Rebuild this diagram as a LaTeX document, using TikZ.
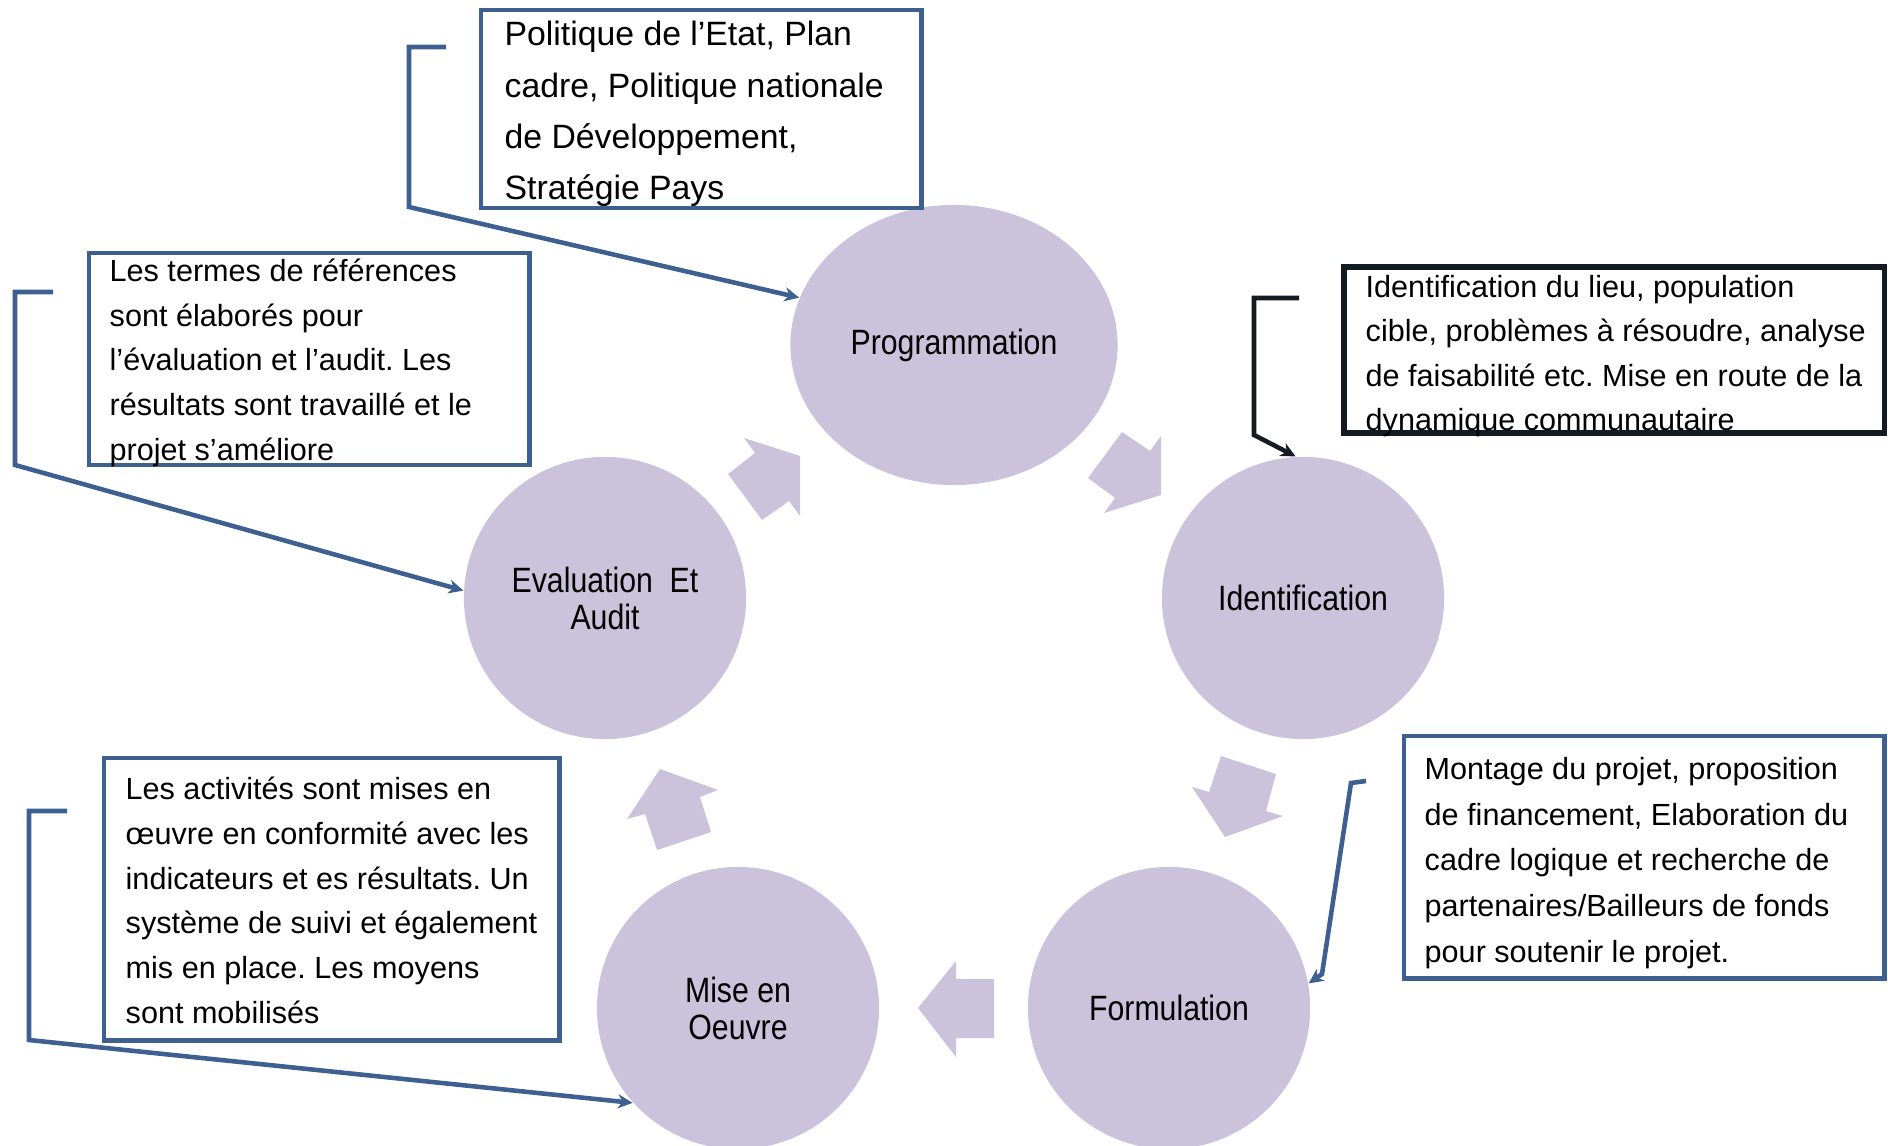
\documentclass[tikz,border=0pt]{standalone}
\usepackage{fontspec}
\setmainfont{Liberation Sans}
\newfontfamily\narrowsans{Liberation Sans}[FakeStretch=0.86]
\usetikzlibrary{shapes.geometric,arrows.meta}
\definecolor{phasefill}{RGB}{203,194,219}
\definecolor{notesblue}{RGB}{62,96,145}
\definecolor{notesdark}{RGB}{21,27,35}
\frenchspacing
\tikzset{
  phase/.style={circle,fill=phasefill,minimum size=2.82cm,inner sep=0pt,align=center,
    font=\narrowsans\fontsize{10}{10.5}\selectfont},
  notebox/.style={draw=notesblue,line width=1.35pt,fill=white,anchor=north west,
    inner sep=0pt,outer sep=0pt},
  notetext/.style={anchor=base west,align=left,inner sep=0pt,
    font=\fontsize{8.7}{12.7}\selectfont},
  link/.style={->,draw=notesblue,line width=1.3pt},
  cyclearrow/.style={fill=phasefill}
}
\begin{document}
\begin{tikzpicture}[x=0.01cm,y=-0.01cm,>={Stealth[length=4.2pt,width=4pt]}]
\useasboundingbox (0,0) rectangle (1888,1146);
% phases of the cycle
\node[phase,ellipse,minimum width=3.27cm,minimum height=2.80cm] (prog) at (954,345) {Programmation};
\node[phase] (ident) at (1303,598) {Identification};
\node[phase] (form) at (1169,1008) {Formulation};
\node[phase] (mise) at (738,1008) {Mise en\\Oeuvre};
\node[phase] (eval) at (605,598) {Evaluation~ Et\\Audit};
% block arrows between phases
\fill[cyclearrow] (744,438) -- (800,456) -- (800,516) -- (789,501) -- (762,520) -- (728,474) -- (755,453) -- cycle;
\fill[cyclearrow] (1122,432) -- (1150,451) -- (1161,436) -- (1161,495) -- (1104,513) -- (1115,498) -- (1088,478) -- cycle;
\fill[cyclearrow] (1221,756) -- (1276,774) -- (1266,811) -- (1283,816) -- (1225,837) -- (1192,787) -- (1209,792) -- cycle;
\fill[cyclearrow] (918,1008) -- (956,961) -- (956,979) -- (994,979) -- (994,1038) -- (956,1038) -- (956,1057) -- cycle;
\fill[cyclearrow] (660,769) -- (718,790) -- (700,797) -- (711,832) -- (657,850) -- (645,814) -- (627,819) -- cycle;
% notes (text placed by the baseline of its last line)
\node[notebox,minimum width=4.40cm,minimum height=1.98cm] (polbox) at (481,10) {};
\node[notetext,font=\fontsize{9.6}{14.6}\selectfont] (poltext) at (504,200)
  {Politique de l’Etat, Plan\\cadre, Politique nationale\\de Développement,\\Stratégie Pays};
\node[notebox,draw=notesdark,line width=1.6pt,minimum width=5.40cm,minimum height=1.66cm] (idbox) at (1344,267) {};
\node[notetext] (idtext) at (1365,431)
  {Identification du lieu, population\\cible, problèmes à résoudre, analyse\\de faisabilité etc. Mise en route de la\\dynamique communautaire};
\node[notebox,minimum width=4.40cm,minimum height=2.12cm] (torbox) at (89,253) {};
\node[notetext] (tortext) at (109,460)
  {Les termes de références\\sont élaborés pour\\l’évaluation et l’audit. Les\\résultats sont travaillé et le\\projet s’améliore};
\node[notebox,minimum width=4.55cm,minimum height=2.82cm] (actbox) at (104,758) {};
\node[notetext] (acttext) at (125,1023)
  {Les activités sont mises en\\œuvre en conformité avec les\\indicateurs et es résultats. Un\\système de suivi et également\\mis en place. Les moyens\\sont mobilisés};
\node[notebox,minimum width=4.80cm,minimum height=2.42cm] (monbox) at (1404,736) {};
\node[notetext,font=\fontsize{8.7}{12.95}\selectfont] (montext) at (1424,962)
  {Montage du projet, proposition\\de financement, Elaboration du\\cadre logique et recherche de\\partenaires/Bailleurs de fonds\\pour soutenir le projet.};
% connectors from the notes
\coordinate (polfree) at (446,47);
\coordinate (polbendA) at (409,47);
\coordinate (polbendB) at (409,207);
\draw[link] (polfree) -- (polbendA) -- (polbendB) -- (prog.163);
\coordinate (idfree) at (1299,298);
\coordinate (idbendA) at (1254,298);
\coordinate (idbendB) at (1254,435);
\draw[link,draw=notesdark] (idfree) -- (idbendA) -- (idbendB) -- (ident.93);
\coordinate (torfree) at (53,292);
\coordinate (torbendA) at (15,292);
\coordinate (torbendB) at (15,465);
\draw[link] (torfree) -- (torbendA) -- (torbendB) -- (eval.177);
\coordinate (actfree) at (67,811);
\coordinate (actbendA) at (29,811);
\coordinate (actbendB) at (29,1040);
\draw[link] (actfree) -- (actbendA) -- (actbendB) -- (mise.222);
\coordinate (monfree) at (1366,781);
\coordinate (monbendA) at (1351,783);
\coordinate (monbendB) at (1322,974);
\draw[link] (monfree) -- (monbendA) -- (monbendB) -- (form.10);
\end{tikzpicture}
\end{document}
